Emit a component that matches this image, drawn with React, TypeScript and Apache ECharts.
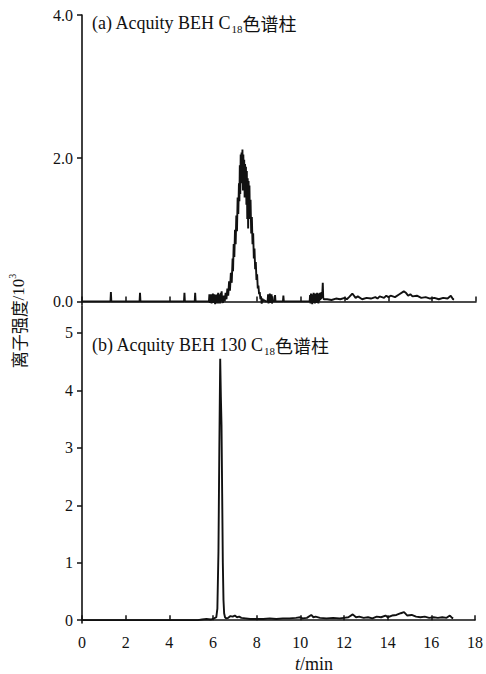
import React, { useEffect, useRef } from "react";
import * as echarts from "echarts";

// Panel (a): Acquity BEH C18 — retention time (min) and ion intensity (x10^3)
const timeA = [
  0, 1.3, 1.32, 1.34, 2.63, 2.65, 2.67, 4.66, 4.68, 4.7, 5.15, 5.17, 5.19,
  5.8, 5.82, 5.84, 5.86, 5.88, 5.9, 5.92, 5.94, 5.96, 5.98, 6.0, 6.02, 6.04, 6.06, 6.08, 6.1,
  6.12, 6.14, 6.16, 6.18, 6.2, 6.22, 6.24, 6.26, 6.28, 6.3, 6.32, 6.34, 6.36, 6.38, 6.4,
  6.44, 6.48, 6.52, 6.56, 6.6, 6.64, 6.68, 6.72, 6.76, 6.8, 6.84, 6.88, 6.9, 6.93, 6.96,
  6.99, 7.02, 7.05, 7.08, 7.11, 7.14, 7.17, 7.19, 7.21, 7.23, 7.25, 7.27, 7.29, 7.31, 7.33,
  7.35, 7.37, 7.39, 7.41, 7.43, 7.45, 7.47, 7.49, 7.51, 7.53, 7.55, 7.57, 7.59, 7.61, 7.63,
  7.65, 7.67, 7.7, 7.73, 7.76, 7.79, 7.82, 7.85, 7.88, 7.91, 7.94, 7.97, 8.0, 8.03, 8.06,
  8.09, 8.12, 8.15, 8.18, 8.21, 8.24, 8.27, 8.3, 8.4, 8.48, 8.5, 8.52, 8.54, 8.56, 8.58,
  8.6, 8.62, 8.64, 8.66, 8.68, 8.7, 8.72, 8.8, 8.82, 8.84, 9.18, 9.2, 9.22,
  10.4, 10.42, 10.44, 10.46, 10.48, 10.5, 10.52, 10.54, 10.56, 10.58, 10.6, 10.62, 10.64,
  10.66, 10.68, 10.7, 10.72, 10.74, 10.76, 10.78, 10.8, 10.82, 10.84, 10.86, 10.88, 10.9,
  10.92, 10.94, 10.96, 10.98, 11.0, 11.02, 11.05, 11.2, 11.4, 11.6, 11.8, 12.0, 12.1, 12.2,
  12.35, 12.5, 12.6, 12.8, 13.0, 13.2, 13.4, 13.5, 13.6, 13.8, 13.9, 14.0, 14.1, 14.3, 14.5,
  14.7, 14.8, 14.9, 15.0, 15.1, 15.3, 15.5, 15.7, 15.9, 16.1, 16.3, 16.5, 16.7, 16.85, 16.95, 17.0,
];
const intensityA = [
  0, 0, 0.13, 0, 0, 0.12, 0, 0, 0.12, 0, 0, 0.12, 0,
  0, 0.1, -0.02, 0.09, 0, 0.1, -0.03, 0.08, 0.01, 0.11, -0.02, 0.07, 0, 0.1, -0.04, 0.09,
  0.01, 0.08, -0.03, 0.1, 0.02, 0.12, -0.03, 0.08, 0.02, 0.1, -0.03, 0.12, 0.03, 0.14, 0.02,
  -0.02, 0.08, 0, 0.12, 0.03, 0.18, 0.08, 0.28, 0.15, 0.4, 0.26, 0.6, 0.42, 0.8, 0.62,
  1.0, 0.8, 1.2, 0.98, 1.45, 1.22, 1.65, 1.4, 1.9, 1.5, 2.05, 1.65, 2.08, 1.7, 2.12,
  1.55, 2.05, 1.75, 1.98, 1.45, 1.92, 1.6, 1.88, 1.35, 1.82, 1.15, 1.72, 1.02, 1.68, 1.3,
  1.62, 1.15, 1.42, 0.95, 1.18, 0.8, 0.95, 0.6, 0.74, 0.45, 0.55, 0.3, 0.38, 0.18, 0.22,
  0.1, 0.13, 0.03, 0.07, -0.03, 0.04, 0, 0.02, 0, 0, 0.1, -0.03, 0.09, 0, 0.11,
  -0.02, 0.08, 0, 0.1, -0.03, 0.07, 0, 0, 0.09, 0, 0, 0.08, 0,
  0, 0.09, -0.03, 0.11, -0.01, 0.08, -0.04, 0.1, 0, 0.12, -0.02, 0.09, -0.03,
  0.11, 0, 0.1, -0.02, 0.12, 0.01, 0.09, -0.03, 0.11, 0, 0.12, 0.02, 0.1,
  0.03, 0.13, 0.05, 0.12, 0.26, 0.05, 0.03, 0.03, 0.02, 0.04, 0.03, 0.05, 0.03, 0.06,
  0.11, 0.05, 0.07, 0.03, 0.05, 0.04, 0.06, 0.04, 0.07, 0.05, 0.08, 0.06, 0.08, 0.06, 0.1,
  0.14, 0.12, 0.08, 0.1, 0.07, 0.08, 0.05, 0.06, 0.04, 0.05, 0.03, 0.05, 0.04, 0.08, 0.03, 0.03,
];

// Panel (b): Acquity BEH 130 C18
const timeB = [
  0, 5.3, 5.5, 5.7, 5.9, 6.05, 6.15, 6.2, 6.25, 6.29, 6.33, 6.36, 6.39, 6.42, 6.45, 6.48,
  6.51, 6.55, 6.6, 6.7, 6.8, 6.9, 7.0, 7.1, 7.2, 7.3, 7.5, 7.7, 8.0, 8.3, 8.6, 8.9, 9.2,
  9.5, 9.8, 10.0, 10.1, 10.3, 10.5, 10.6, 10.7, 10.9, 11.2, 11.5, 11.8, 12.0, 12.2, 12.4,
  12.55, 12.7, 12.9, 13.1, 13.3, 13.5, 13.7, 13.9, 14.0, 14.2, 14.4, 14.6, 14.75, 14.9,
  15.1, 15.3, 15.5, 15.7, 15.9, 16.1, 16.3, 16.5, 16.7, 16.85, 16.95, 17.0,
];
const intensityB = [
  0, 0, 0.01, 0.02, 0.01, 0.03, 0.05, 0.2, 1.2, 3.0, 4.55, 3.9, 3.4, 2.2, 1.0, 0.35,
  0.12, 0.05, 0.03, 0.04, 0.07, 0.06, 0.08, 0.05, 0.06, 0.04, 0.03, 0.02, 0.02, 0.02, 0.03, 0.02, 0.03,
  0.03, 0.04, 0.05, 0.03, 0.04, 0.09, 0.05, 0.06, 0.04, 0.03, 0.04, 0.03, 0.04, 0.05, 0.1,
  0.05, 0.06, 0.04, 0.05, 0.03, 0.06, 0.05, 0.08, 0.05, 0.08, 0.09, 0.12, 0.14, 0.08,
  0.09, 0.06, 0.05, 0.06, 0.04, 0.05, 0.04, 0.05, 0.04, 0.08, 0.04, 0.03,
];

const yTicksA = [0, 2, 4];
const yTicksB = [0, 1, 2, 3, 4, 5];

const SERIF = "Liberation Serif";
const CJK = "Noto Sans CJK SC";
const INK = "#111";

export default function App() {
  const ref = useRef<HTMLDivElement>(null);
  useEffect(() => {
    if (!ref.current) return;
    const chart = echarts.init(ref.current, null, { renderer: "svg" });
    const axisLine = { show: true, lineStyle: { color: INK, width: 1.6 } };
    const xAxisBase = {
      type: "value",
      min: 0,
      max: 18,
      interval: 2,
      axisLine,
      axisTick: { show: true, inside: true, length: 5, lineStyle: { color: INK, width: 1.5 } },
      splitLine: { show: false },
    };
    const yAxisBase = {
      type: "value",
      axisLine,
      splitLine: { show: false },
    };
    const labelStyle = { color: INK, fontFamily: SERIF, fontSize: 16, margin: 9 };
    const titleRich = {
      n: { fontFamily: SERIF, fontSize: 18, fill: INK, lineHeight: 20, verticalAlign: "bottom" },
      s: { fontFamily: SERIF, fontSize: 11, fill: INK, lineHeight: 20, verticalAlign: "bottom", padding: [0, 0, -2, 0] },
      c: { fontFamily: CJK, fontSize: 18, fill: INK, lineHeight: 20, verticalAlign: "bottom" },
    };
    chart.setOption({
      animation: false,
      backgroundColor: "#fff",
      grid: [
        { left: 82, right: 10, top: 15, height: 290 },
        { left: 82, right: 10, top: 306, height: 317 },
      ],
      xAxis: [
        { ...xAxisBase, gridIndex: 0, axisLabel: { show: false } },
        { ...xAxisBase, gridIndex: 1, axisLabel: { show: true, ...labelStyle, margin: 11 } },
      ],
      yAxis: [
        {
          ...yAxisBase,
          gridIndex: 0,
          min: -0.05,
          max: 4.0,
          axisTick: { show: true, length: 5, customValues: yTicksA, lineStyle: { color: INK, width: 1.5 } },
          axisLabel: {
            show: true,
            customValues: yTicksA,
            formatter: (v: number) => v.toFixed(1),
            ...labelStyle,
          },
        },
        {
          ...yAxisBase,
          gridIndex: 1,
          min: -0.05,
          max: 5.47,
          axisTick: { show: true, length: 5, customValues: yTicksB, lineStyle: { color: INK, width: 1.5 } },
          axisLabel: {
            show: true,
            customValues: yTicksB,
            formatter: (v: number) => String(v),
            ...labelStyle,
          },
        },
      ],
      series: [
        {
          type: "line",
          xAxisIndex: 0,
          yAxisIndex: 0,
          data: timeA.map((t, i) => [t, intensityA[i]]),
          showSymbol: false,
          lineStyle: { color: INK, width: 1.9 },
        },
        {
          type: "line",
          xAxisIndex: 1,
          yAxisIndex: 1,
          data: timeB.map((t, i) => [t, intensityB[i]]),
          showSymbol: false,
          lineStyle: { color: INK, width: 1.9 },
        },
      ],
      graphic: [
        {
          type: "text",
          x: 92,
          y: 22,
          style: {
            text: "{n|(a) Acquity BEH C}{s|18}{c|色谱柱}",
            verticalAlign: "middle",
            rich: titleRich,
          },
        },
        {
          type: "text",
          x: 92,
          y: 344,
          style: {
            text: "{n|(b) Acquity BEH 130 C}{s|18}{c|色谱柱}",
            verticalAlign: "middle",
            rich: titleRich,
          },
        },
        {
          type: "text",
          x: 17,
          y: 321,
          rotation: Math.PI / 2,
          style: {
            text: "{c|离子强度}{n|/10}{p|3}",
            align: "center",
            verticalAlign: "middle",
            rich: {
              c: { fontFamily: CJK, fontSize: 17, fill: INK, lineHeight: 20, verticalAlign: "bottom" },
              n: { fontFamily: SERIF, fontSize: 17, fill: INK, lineHeight: 20, verticalAlign: "bottom" },
              p: { fontFamily: SERIF, fontSize: 10, fill: INK, lineHeight: 20, verticalAlign: "top" },
            },
          },
        },
        {
          type: "text",
          x: 314,
          y: 664,
          style: {
            text: "{i|t}{n|/min}",
            align: "center",
            verticalAlign: "middle",
            rich: {
              i: { fontFamily: SERIF, fontStyle: "italic", fontSize: 18, fill: INK },
              n: { fontFamily: SERIF, fontSize: 18, fill: INK },
            },
          },
        },
      ],
    });
    return () => chart.dispose();
  }, []);
  return <div ref={ref} style={{ width: 486, height: 674, position: "absolute", left: 0, top: 0 }} />;
}
